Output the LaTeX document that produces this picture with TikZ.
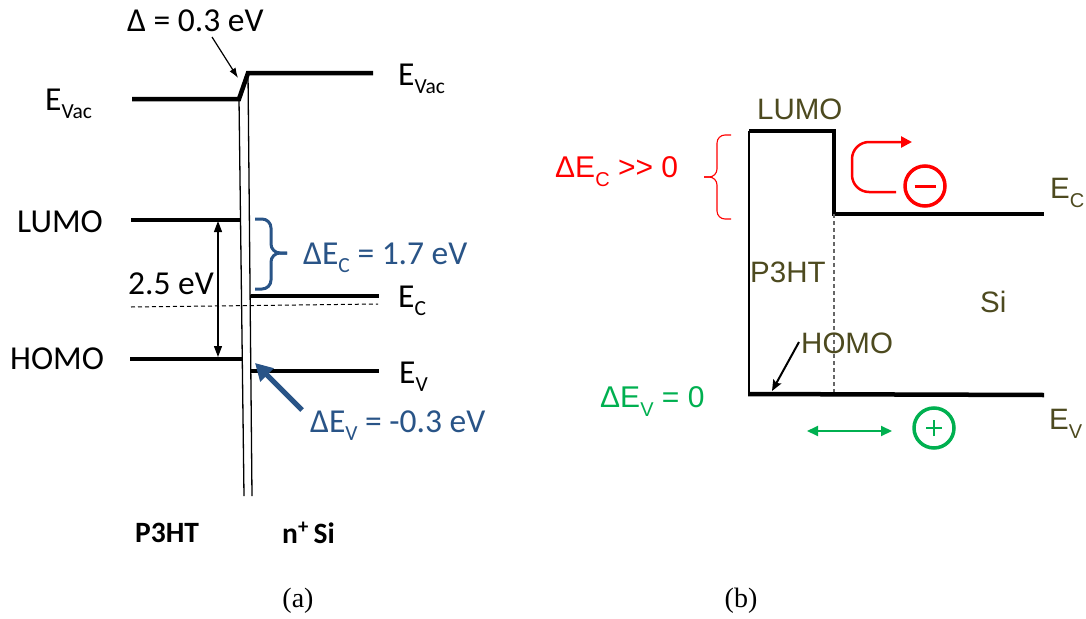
\documentclass[tikz,border=0pt]{standalone}
\usepackage{fontspec}
\setmainfont{Carlito}
\newfontfamily\arialf{Liberation Sans}
\newfontfamily\timesf{Liberation Serif}
\usetikzlibrary{arrows.meta}
\definecolor{dblue}{RGB}{41,84,135}
\definecolor{olivet}{RGB}{77,74,31}
\definecolor{greenx}{RGB}{0,176,80}
\definecolor{redx}{RGB}{255,0,0}
\newcommand{\lsubv}[1]{\raisebox{-0.25em}{\fontsize{21.5}{22}\selectfont #1}}
\newcommand{\rsubv}[1]{\raisebox{-0.33em}{\fontsize{20}{20}\selectfont #1}}
\begin{document}
\begin{tikzpicture}[x=1pt,y=-1pt,
  lvl/.style={line width=4.5pt},
  wall/.style={line width=1.3pt},
  lab/.style={inner sep=0pt,anchor=base west,font=\fontsize{33.5}{34}\selectfont},
  rlab/.style={inner sep=0pt,anchor=base west,font=\arialf\fontsize{29.5}{30}\selectfont,text=olivet},
  bl/.style={inner sep=0pt,anchor=base west,font=\bfseries\fontsize{29.5}{30}\selectfont},
  figcap/.style={inner sep=0pt,anchor=base,font=\timesf\fontsize{28}{28}\selectfont},
  ring/.style={circle,minimum size=40pt,inner sep=0pt,line width=3.5pt}]
\useasboundingbox[fill=white] (0,0) rectangle (1086,618);

% ---------------- panel (a) ----------------
\coordinate (vacA) at (132,99);
\coordinate (vacB) at (239,99);
\coordinate (vacC) at (248,73);
\coordinate (vacD) at (373,73);
\draw[lvl] (vacA) -- (vacB) -- (vacC) -- (vacD);

\coordinate (wlT) at (239,99);  \coordinate (wlB) at (244,496);
\coordinate (wrT) at (248,73);  \coordinate (wrB) at (252,496);
\draw[wall] (wlT) -- (wlB);
\draw[wall] (wrT) -- (wrB);

\coordinate (lumoA) at (131,220); \coordinate (lumoB) at (241,220);
\coordinate (homoA) at (130,359); \coordinate (homoB) at (243,359);
\coordinate (ecA) at (251,296);   \coordinate (ecB) at (379,296);
\coordinate (evA) at (251,371);   \coordinate (evB) at (379,371);
\draw[lvl] (lumoA) -- (lumoB);
\draw[lvl] (homoA) -- (homoB);
\draw[lvl] (ecA) -- (ecB);
\draw[lvl] (evA) -- (evB);

\coordinate (dashA) at (131,307); \coordinate (dashB) at (378,304);
\draw[line width=1pt,dash pattern=on 4pt off 3pt] (dashA) -- (dashB);

\coordinate (gapT) at (218,221); \coordinate (gapB) at (218,357);
\draw[line width=1.2pt,{Triangle[length=11pt,width=8pt]}-{Triangle[length=11pt,width=8pt]}] (gapT) -- (gapB);

\node[lab] (evacL) at (45,110) {E\lsubv{Vac}};
\node[lab] (evacR) at (398,85) {E\lsubv{Vac}};
\node[lab] (lumoL) at (17,232) {LUMO};
\node[lab] (homoL) at (10,369) {HOMO};
\node[lab] (gapL) at (128,294) {2.5 eV};
\node[lab] (ecL) at (398,307) {E\lsubv{C}};
\node[lab] (evL) at (399,383) {E\lsubv{V}};

\node[lab] (delta) at (127,32) {Δ = 0.3 eV};
\coordinate (deltaTail) at (212,37);
\coordinate (deltaTip) at (238,78);
\draw[line width=1.2pt,-{Latex[length=10pt,width=7pt]}] (deltaTail) -- (deltaTip);

% blue brace
\draw[dblue,line width=3pt,rounded corners=9pt] (255,219) -- (271,219) -- (271,253) -- (287,253);
\draw[dblue,line width=3pt,rounded corners=9pt] (287,253) -- (271,253) -- (271,289) -- (255,289);
\node[lab,text=dblue] (decL) at (303,264) {ΔE\lsubv{C} = 1.7 eV};

% blue arrow
\coordinate (bTail) at (302,410);
\coordinate (bTip) at (255,363);
\draw[dblue,line width=5pt,-{Triangle[length=17pt,width=18pt]}] (bTail) -- (bTip);
\node[lab,text=dblue] (devL) at (310,432) {ΔE\lsubv{V} = -0.3 eV};

\node[bl] (p3htA) at (135,542) {P3HT};
\node[bl] (nsi) at (282,543) {n\textsuperscript{+}\,Si};

\node[figcap] (capa) at (298,607) {(a)};
\node[figcap] (capb) at (741,607) {(b)};

% ---------------- panel (b) ----------------
\coordinate (luA) at (749,131);
\coordinate (luB) at (834,131);
\coordinate (luC) at (834,214);
\coordinate (ecR) at (1044,214);
\draw[lvl,line join=miter] (luA) -- (luB) -- (luC) -- (ecR);

\coordinate (thinB) at (749,395);
\draw[line width=1.2pt] (luA) -- (thinB);
\coordinate (dashV) at (834,395);
\draw[line width=1.2pt,gray!80!black,dash pattern=on 4pt off 3pt] (luC) -- (dashV);

\coordinate (evRA) at (748,394);
\coordinate (evRB) at (1044,395);
\draw[lvl] (evRA) -- (evRB);

\node[rlab] (lumoR) at (757,119) {LUMO};
\node[rlab] (p3htR) at (750,282) {P3HT};
\node[rlab] (siR) at (980,312) {Si};
\node[rlab] (homoR) at (801,353) {HOMO};
\node[rlab] (ecRL) at (1050,198) {E\rsubv{C}};
\node[rlab] (evRL) at (1049,429) {E\rsubv{V}};

\coordinate (hTail) at (799,342);
\coordinate (hTip) at (772,391);
\draw[line width=2pt,-{Stealth[length=11pt,width=9pt,inset=2pt]}] (hTail) -- (hTip);

% red brace and label
\draw[redx,line width=1.1pt,rounded corners=8pt] (731,135) -- (717,135) -- (717,177) -- (704,177);
\draw[redx,line width=1.1pt,rounded corners=8pt] (704,177) -- (717,177) -- (717,219) -- (731,219);
\node[inner sep=0pt,anchor=base west,font=\arialf\fontsize{30}{30}\selectfont,text=redx] (decR) at (555,177) {ΔE\rsubv{C} {>}{>} 0};

% red curved arrow and electron
\coordinate (rA) at (896,192);
\coordinate (rB) at (852,192);
\coordinate (rC) at (852,142);
\coordinate (rD) at (912,142);
\draw[redx,line width=2.5pt,rounded corners=17pt,-{Triangle[length=11pt,width=11pt]}] (rA) -- (rB) -- (rC) -- (rD);
\node[ring,draw=redx] (elec) at (925,186) {};
\draw[redx,line width=3pt] ([xshift=-10.5pt]elec.center) -- ([xshift=10.5pt]elec.center);

% green
\node[inner sep=0pt,anchor=base west,font=\arialf\fontsize{30}{30}\selectfont,text=greenx] (devR) at (600,407) {ΔE\rsubv{V} = 0};
\coordinate (gA) at (807,431);
\coordinate (gB) at (892,431);
\draw[greenx,line width=2pt,{Triangle[length=11pt,width=10pt]}-{Triangle[length=11pt,width=10pt]}] (gA) -- (gB);
\node[ring,draw=greenx] (hole) at (934,428) {};
\draw[greenx,line width=2.5pt] ([xshift=-8pt]hole.center) -- ([xshift=8pt]hole.center);
\draw[greenx,line width=2.5pt] ([yshift=-8pt]hole.center) -- ([yshift=8pt]hole.center);
\end{tikzpicture}
\end{document}
